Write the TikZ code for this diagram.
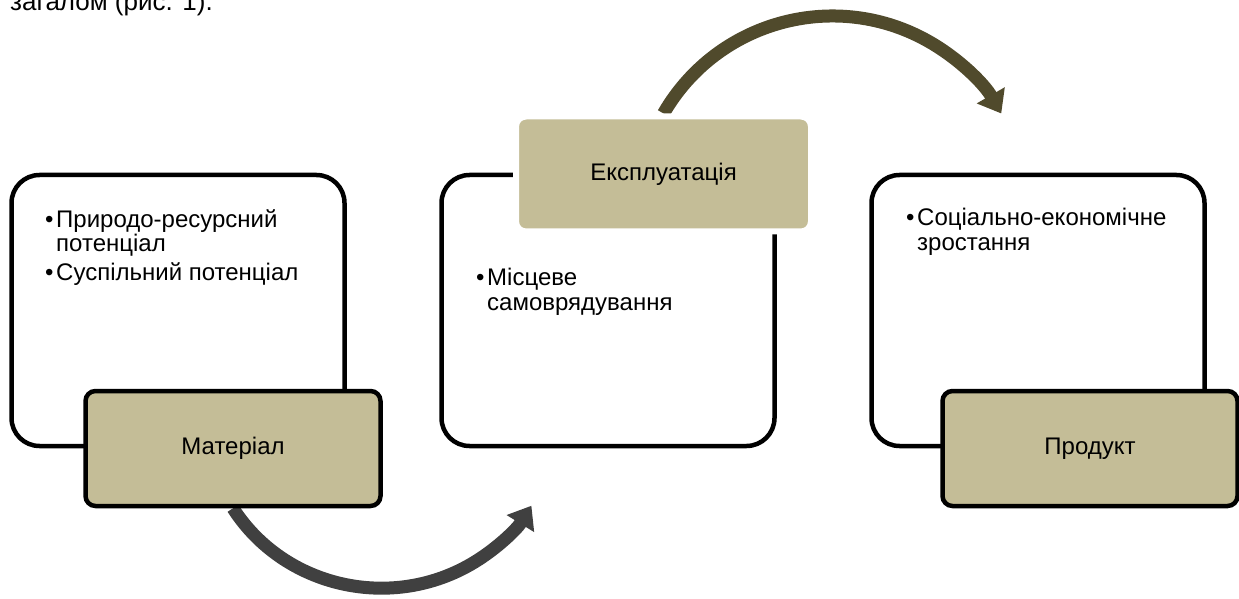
\documentclass[tikz,border=0pt]{standalone}
\usepackage{fontspec}
\setmainfont{Liberation Sans}
\usetikzlibrary{arrows.meta, backgrounds}
\definecolor{satan}{RGB}{196,189,151}
\definecolor{saolive}{RGB}{80,74,44}
\definecolor{sagray}{RGB}{64,64,64}
\newcommand{\bul}{\makebox[11pt][l]{\textbullet}}
\newcommand{\bulgap}{\hspace*{11pt}}

\begin{document}
\begin{tikzpicture}[x=1pt, y=1pt,
  every node/.style={font=\fontsize{24}{25}\selectfont},
  panel/.style={draw=black, line width=4.5pt, rounded corners=28pt, fill=white,
                minimum width=333pt, minimum height=271pt},
  tag/.style={rounded corners=10pt, fill=satan, line width=4.5pt,
              minimum width=295pt, minimum height=115pt},
  bullets/.style={align=left, inner sep=0pt, anchor=base west},
  bigarrow/.style={line width=13pt, -{Triangle[length=21pt, width=31pt]}}]
  \useasboundingbox (0,0) rectangle (1239,598);

  % caption line cut at the top
  \node[anchor=base west, inner sep=0pt, font=\fontsize{26}{30}\selectfont] (caption)
    at (10,587) {загалом (рис. 1).};

  % Panels
  \node[panel] (p1) at (178,287.5) {};
  \node[panel] (p2) at (608,287.5) {};
  \node[panel] (p3) at (1038,287.5) {};

  % Tags
  \node[tag, draw=black] (mat) at (233,149.5) {Матеріал};
  \node[tag, draw=white, line width=6pt] (exp) at (663.5,424) {Експлуатація};
  \node[tag, draw=black] (prod) at (1090,149.5) {Продукт};

  % Bullet lists (base = last line)
  \node[bullets] (t1) at (45,318)
    {\bul Природо-ресурсний\\\bulgap потенціал\\[3pt]\bul Суспільний потенціал};
  \node[bullets] (t2) at (476,288)
    {\bul Місцеве\\\bulgap самоврядування};
  \node[bullets] (t3) at (906,347)
    {\bul Соціально-економічне\\\bulgap зростання};

  % Curved arrows
  \begin{scope}[on background layer]
    \draw[bigarrow, sagray] (mat.south)
      arc[start angle=212, end angle=329, x radius=175, y radius=170];
    \draw[bigarrow, saolive] (exp.north)
      arc[start angle=150, end angle=30, radius=195];
  \end{scope}
\end{tikzpicture}
\end{document}
